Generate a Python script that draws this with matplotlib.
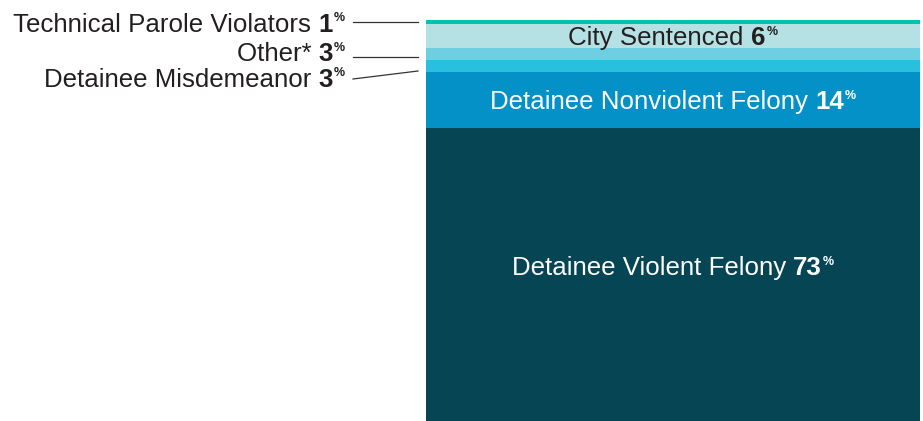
import matplotlib
matplotlib.use('Agg')
import matplotlib.pyplot as plt
from matplotlib.lines import Line2D
from matplotlib.transforms import IdentityTransform

# stacked from the bottom of the bar to the top
CATEGORIES = ['Detainee Violent Felony', 'Detainee Nonviolent Felony', 'Detainee Misdemeanor',
              'Other*', 'City Sentenced', 'Technical Parole Violators']
PERCENTS = [73, 14, 3, 3, 6, 1]
COLORS = ['#064554', '#0391c8', '#29c0df', '#6ecfe2', '#b6e1e4', '#00c2b2']

W, H = 923, 421
FONT = 'Liberation Sans'
SIZE = 18.6
SUP_SIZE = 9
DARK = '#231f20'

plt.rcParams['font.family'] = [FONT, 'DejaVu Sans']

fig = plt.figure(figsize=(W / 100, H / 100), dpi=100)
ax = fig.add_axes([426 / W, 0, 494 / W, 401 / H])
ax.set_xlim(-0.5, 0.5)
ax.set_ylim(0, sum(PERCENTS))
ax.axis('off')

bottoms = []
b = 0
for v in PERCENTS:
    bottoms.append(b)
    b += v
ax.bar(0, PERCENTS, bottom=bottoms, width=1, color=COLORS, linewidth=0)

renderer = fig.canvas.get_renderer()
px = 100 / 72.0
cap = 0.716 * SIZE * px


def label(x, y_base, name, pct, color, ha):
    # draws "name pct%" with a small superscript % ; x/y in display pixels
    tr = IdentityTransform()
    t1 = fig.text(0, 0, name + ' ', fontsize=SIZE, color=color, transform=tr, va='baseline')
    t2 = fig.text(0, 0, str(pct), fontsize=SIZE, fontweight='bold', color=color, transform=tr, va='baseline')
    t3 = fig.text(0, 0, '%', fontsize=SUP_SIZE, fontweight='bold', color=color, transform=tr, va='top')
    w1 = t1.get_window_extent(renderer).width
    w2 = t2.get_window_extent(renderer).width
    w3 = t3.get_window_extent(renderer).width
    total = w1 + w2 + 1 + w3
    if ha == 'right':
        x0 = x - total
    else:
        x0 = x - total / 2
    t1.set_position((x0, y_base))
    t2.set_position((x0 + w1, y_base))
    t3.set_position((x0 + w1 + w2 + 1, y_base + cap + 1))


# labels inside the bar, centred on their segment
inside = {'City Sentenced': (DARK, 0.5), 'Detainee Nonviolent Felony': ('white', 0.5),
          'Detainee Violent Felony': ('white', 0.53)}
cx = ax.transData.transform((0, 0))[0]
for name, pct, bot in zip(CATEGORIES, PERCENTS, bottoms):
    if name in inside:
        color, frac = inside[name]
        yc = ax.transData.transform((0, bot + pct * frac))[1]
        label(cx, yc - cap / 2, name, pct, color, 'center')

# labels to the left with leader lines (image pixel rows)
outside = {'Technical Parole Violators': (31.7, 22.3, 22.3),
           'Other*': (61.0, 56.7, 56.7),
           'Detainee Misdemeanor': (86.7, 79.0, 71.0)}
for name, pct in zip(CATEGORIES, PERCENTS):
    if name in outside:
        base, l0, l1 = outside[name]
        label(345, H - base, name, pct, DARK, 'right')
        fig.add_artist(Line2D([353, 418], [H - l0, H - l1], color='#333333',
                              linewidth=0.9, transform=IdentityTransform()))

fig.savefig('out.png', dpi=100)
